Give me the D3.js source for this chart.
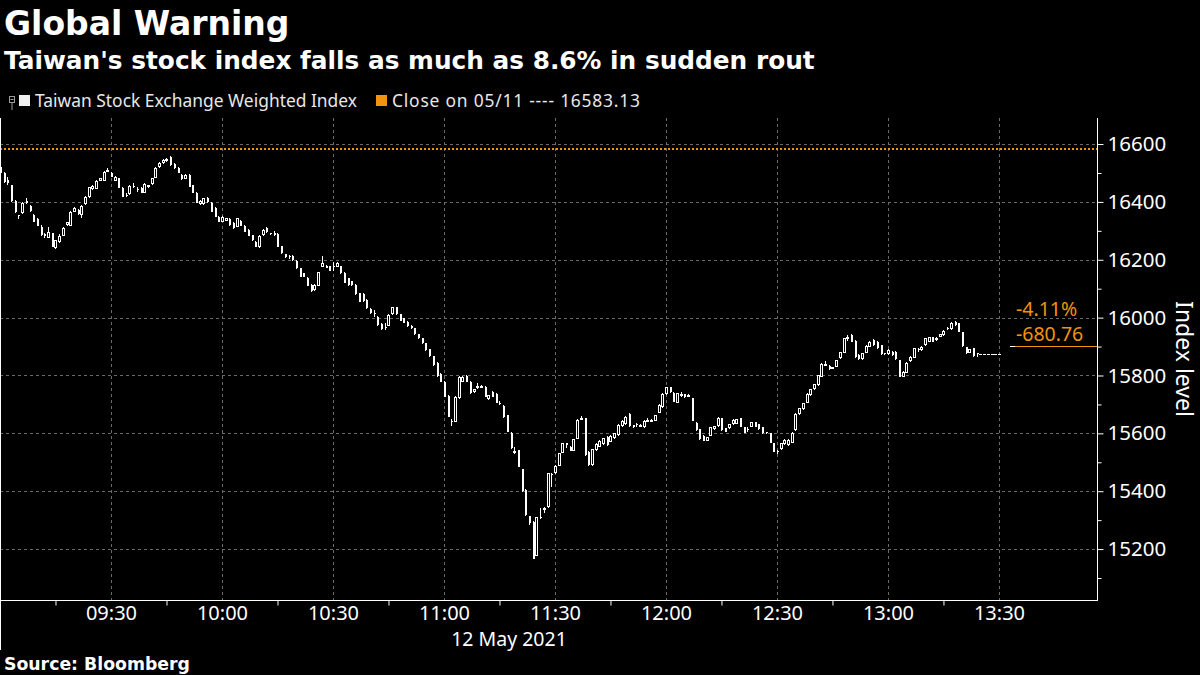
<!DOCTYPE html>
<html><head><meta charset="utf-8">
<script src="https://cdn.jsdelivr.net/npm/d3@7"></script>
<style>html,body{margin:0;padding:0;background:#000;} svg{display:block}</style>
</head><body><svg id="c" width="1200" height="675"></svg>
<script>
// ---------------- DATA ----------------
const sessionStart = "09:00";   // first 1-minute candle
const opens = [
16522,16501,16476,16458,16403,16354,16360,16402,16386,16355,
16341,16314,16289,16276,16292,16242,16262,16283,16319,16318,
16366,16372,16354,16393,16417,16444,16445,16473,16473,16505,
16500,16473,16482,16448,16425,16427,16455,16445,16448,16432,
16451,16462,16484,16519,16533,16543,16555,16530,16517,16493,
16480,16493,16458,16432,16392,16392,16413,16396,16379,16349,
16331,16335,16341,16327,16314,16334,16317,16303,16285,16262,
16243,16285,16310,16292,16294,16289,16247,16219,16212,16213,
16197,16170,16153,16138,16113,16095,16110,16176,16179,16178,
16178,16176,16178,16155,16136,16126,16113,16084,16082,16061,
16030,16016,16003,15978,15969,15972,16011,16036,16012,15998,
15986,15971,15963,15943,15928,15911,15890,15867,15844,15805,
15778,15729,15641,15640,15721,15778,15798,15778,15743,15757,
15762,15761,15718,15744,15736,15706,15695,15663,15602,15531,
15542,15476,15404,15314,15294,15177,15311,15338,15344,15460,
15462,15488,15533,15565,15554,15540,15581,15650,15652,15536,
15490,15542,15554,15563,15588,15571,15583,15594,15625,15632,
15667,15628,15632,15628,15622,15644,15645,15644,15671,15690,
15736,15759,15740,15706,15735,15735,15731,15721,15637,15614,
15591,15574,15592,15614,15625,15652,15617,15617,15632,15634,
15652,15621,15616,15623,15638,15632,15621,15604,15600,15565,
15538,15546,15563,15560,15567,15611,15667,15684,15706,15732,
15753,15767,15796,15838,15834,15826,15830,15859,15879,15932,
15940,15919,15871,15856,15879,15899,15923,15917,15905,15877,
15873,15882,15882,15853,15796,15809,15850,15861,15892,15888,
15905,15917,15932,15926,15934,15940,15964,15960,15986,15980,
15949,15897,15879,15894,15878,15876,15876,15876,15876,15876,
15876];
const highs = [
16526,16503,16485,16460,16405,16356,16400,16412,16388,16357,
16343,16320,16292,16314,16294,16270,16290,16312,16332,16367,
16384,16374,16388,16419,16453,16457,16474,16484,16506,16516,
16502,16488,16484,16450,16432,16457,16465,16451,16450,16464,
16460,16484,16519,16537,16547,16552,16557,16536,16519,16495,
16495,16495,16460,16434,16405,16415,16418,16398,16381,16351,
16350,16346,16343,16329,16346,16336,16319,16305,16287,16264,
16284,16305,16312,16294,16298,16291,16249,16221,16216,16215,
16199,16172,16155,16140,16115,16115,16159,16213,16181,16180,
16193,16192,16180,16157,16138,16128,16115,16086,16084,16063,
16032,16026,16005,15980,15981,16011,16038,16038,16014,16000,
15988,15973,15965,15945,15930,15913,15892,15869,15846,15807,
15780,15731,15648,15728,15797,15797,15800,15780,15754,15773,
15768,15763,15734,15746,15738,15712,15697,15665,15604,15554,
15544,15478,15406,15316,15296,15312,15341,15344,15464,15462,
15489,15533,15567,15567,15556,15581,15648,15660,15654,15538,
15547,15565,15576,15585,15590,15593,15602,15631,15646,15659,
15669,15630,15636,15632,15646,15654,15649,15665,15700,15738,
15761,15761,15742,15740,15744,15737,15735,15723,15639,15616,
15593,15588,15623,15627,15656,15654,15619,15633,15648,15650,
15654,15623,15622,15640,15640,15634,15623,15606,15602,15567,
15541,15567,15579,15579,15604,15669,15688,15706,15738,15755,
15772,15803,15842,15851,15836,15830,15855,15882,15930,15941,
15942,15921,15873,15879,15904,15919,15925,15919,15907,15879,
15890,15884,15884,15855,15814,15846,15867,15896,15896,15901,
15930,15934,15934,15934,15945,15957,15967,15984,15988,15982,
15951,15899,15892,15896,15879,15876,15876,15876,15876,15876,
15876];
const lows = [
16496,16467,16460,16400,16362,16341,16358,16394,16366,16329,
16316,16283,16275,16274,16243,16238,16258,16281,16317,16316,
16364,16356,16345,16390,16415,16442,16443,16471,16471,16503,
16485,16471,16447,16416,16417,16425,16448,16435,16430,16430,
16449,16460,16482,16517,16531,16539,16525,16514,16499,16477,
16478,16450,16430,16395,16390,16390,16397,16364,16347,16329,
16329,16333,16318,16307,16312,16315,16295,16281,16266,16243,
16241,16283,16292,16285,16282,16243,16220,16206,16203,16197,
16168,16139,16139,16108,16090,16093,16108,16174,16170,16160,
16162,16174,16151,16119,16111,16111,16078,16053,16054,16030,
16013,16003,15972,15958,15957,15970,16009,16010,15987,15980,
15969,15961,15941,15926,15909,15886,15865,15834,15796,15776,
15724,15655,15625,15638,15719,15776,15776,15736,15741,15755,
15758,15724,15716,15724,15704,15698,15653,15603,15546,15530,
15482,15399,15316,15283,15164,15175,15305,15325,15342,15415,
15460,15486,15531,15548,15538,15538,15579,15645,15523,15488,
15488,15540,15552,15561,15558,15569,15581,15592,15623,15630,
15623,15618,15623,15622,15620,15640,15643,15642,15669,15688,
15734,15740,15707,15704,15727,15722,15729,15642,15609,15577,
15572,15572,15590,15612,15623,15609,15603,15615,15630,15632,
15621,15600,15606,15621,15621,15612,15598,15598,15565,15534,
15530,15544,15561,15558,15565,15609,15665,15682,15704,15730,
15751,15765,15794,15835,15820,15822,15828,15857,15877,15918,
15915,15861,15854,15854,15877,15897,15903,15892,15872,15871,
15871,15869,15854,15794,15794,15807,15848,15859,15882,15886,
15903,15915,15915,15920,15932,15938,15958,15958,15972,15949,
15900,15875,15877,15865,15865,15876,15876,15876,15876,15876,
15876];
const closes = [
16499,16470,16465,16403,16366,16352,16397,16396,16368,16331,
16318,16285,16282,16297,16245,16268,16282,16310,16330,16365,
16379,16358,16386,16417,16451,16455,16472,16482,16504,16510,
16487,16486,16449,16418,16423,16455,16452,16440,16432,16462,
16458,16482,16517,16535,16545,16548,16527,16518,16501,16479,
16493,16452,16432,16397,16403,16413,16400,16366,16349,16331,
16348,16344,16320,16309,16344,16317,16297,16283,16268,16245,
16282,16303,16296,16290,16286,16245,16222,16208,16208,16199,
16170,16141,16141,16110,16092,16113,16157,16190,16172,16162,
16175,16190,16153,16121,16113,16113,16080,16055,16056,16032,
16015,16013,15974,15960,15967,16009,16036,16012,15989,15982,
15971,15963,15943,15928,15911,15888,15867,15836,15798,15778,
15726,15657,15638,15726,15795,15795,15778,15738,15752,15762,
15765,15726,15732,15726,15706,15703,15655,15605,15548,15539,
15484,15401,15318,15289,15165,15310,15308,15342,15462,15456,
15487,15531,15565,15560,15540,15579,15646,15652,15525,15490,
15545,15563,15574,15583,15560,15591,15600,15629,15644,15657,
15625,15622,15630,15630,15644,15646,15647,15663,15698,15736,
15759,15744,15709,15738,15737,15724,15733,15644,15611,15579,
15574,15586,15621,15625,15654,15611,15605,15631,15646,15648,
15623,15602,15614,15638,15623,15614,15600,15600,15567,15536,
15535,15565,15577,15577,15602,15667,15686,15704,15736,15753,
15770,15801,15840,15841,15822,15828,15853,15880,15928,15934,
15917,15863,15856,15877,15902,15917,15905,15894,15874,15874,
15888,15871,15856,15796,15812,15844,15865,15894,15889,15899,
15928,15932,15917,15930,15943,15955,15960,15982,15974,15951,
15902,15877,15890,15867,15877,15876,15876,15876,15876,15876,
15876];
const prevClose = 16583.13;
const lastClose = 15902.37;
const yTickValues = [15200,15400,15600,15800,16000,16200,16400,16600];
const yMinorValues = [15100,15300,15500,15700,15900,16100,16300,16500];
const xTickLabels = ["09:30","10:00","10:30","11:00","11:30","12:00","12:30","13:00","13:30"];
const xMinorLabels = ["09:15","09:45","10:15","10:45","11:15","11:45","12:15","12:45","13:15"];
const dateLabel = "12 May 2021";
const titleText = "Global Warning";
const subtitleText = "Taiwan's stock index falls as much as 8.6% in sudden rout";
const seriesName = "Taiwan Stock Exchange Weighted Index";
const closeLegend = "Close on 05/11 ---- 16583.13";
const axisTitle = "Index level";
const sourceText = "Source: Bloomberg";

// ---------------- CHART ----------------
const ORANGE = "#f2930f", WHITE = "#ffffff", GRID = "#6a6a6a", TXT = "#e8e8e8";
const FONT = "'Noto Sans', 'DejaVu Sans', sans-serif";
const BOLD = "'DejaVu Sans', 'Noto Sans', sans-serif";
const fmt = d3.formatLocale({decimal:".", thousands:",", grouping:[3], currency:["",""], minus:"-"});
const svg = d3.select("#c");
svg.append("rect").attr("width",1200).attr("height",675).attr("fill","#000");

const P = {left:0, right:1097, top:118, bottom:600};
const parse = d3.timeParse("%H:%M");
const t0 = parse(sessionStart);
const times = opens.map((_, i) => d3.timeMinute.offset(t0, i));
const x = d3.scaleTime().domain([t0, d3.timeSecond.offset(t0, 296.5*60)]).range([P.left, P.right]);
const y = d3.scaleLinear().domain([15024, 16690]).range([P.bottom, P.top]);

// titles
svg.append("text").attr("x",4).attr("y",35).attr("font-family",BOLD).attr("font-weight","bold")
  .attr("font-size",33).attr("fill",WHITE).text(titleText);
svg.append("text").attr("x",4).attr("y",68.5).attr("font-family",BOLD).attr("font-weight","bold")
  .attr("font-size",24.8).attr("fill",WHITE).text(subtitleText);

// legend
const lg = svg.append("g");
lg.append("rect").attr("x",9.5).attr("y",96.5).attr("width",5).attr("height",6)
  .attr("fill","none").attr("stroke","#9a9a9a").attr("stroke-width",1);
lg.append("line").attr("x1",10.5).attr("x2",13.5).attr("y1",99.5).attr("y2",99.5).attr("stroke","#9a9a9a");
lg.append("line").attr("x1",12).attr("x2",12).attr("y1",103).attr("y2",110).attr("stroke","#9a9a9a");
lg.append("rect").attr("x",19).attr("y",95).attr("width",11).attr("height",11).attr("fill","#f0f0f0");
lg.append("text").attr("x",35).attr("y",106.5).attr("font-family",FONT).attr("font-size",17.4)
  .attr("fill",TXT).attr("textLength",322).attr("lengthAdjust","spacing").text(seriesName);
lg.append("rect").attr("x",376).attr("y",95).attr("width",11).attr("height",11).attr("fill",ORANGE);
lg.append("text").attr("x",392).attr("y",106.5).attr("font-family",FONT).attr("font-size",17.4)
  .attr("fill",TXT).attr("textLength",248).attr("lengthAdjust","spacing").text(closeLegend);

// grid
const xTickTimes = xTickLabels.map(parse);
const xMinorTimes = xMinorLabels.map(parse);
const grid = svg.append("g").attr("shape-rendering","crispEdges");
grid.selectAll(".hg").data(yTickValues).join("line")
  .attr("x1",P.left).attr("x2",P.right).attr("y1",d=>Math.round(y(d))+0.5).attr("y2",d=>Math.round(y(d))+0.5)
  .attr("stroke",GRID).attr("stroke-dasharray","3,3");
grid.selectAll(".vg").data(xTickTimes).join("line")
  .attr("x1",d=>Math.round(x(d))+0.5).attr("x2",d=>Math.round(x(d))+0.5).attr("y1",P.top).attr("y2",P.bottom)
  .attr("stroke",GRID).attr("stroke-dasharray","3,3");

// previous close dotted line
svg.append("line").attr("x1",P.left).attr("x2",P.right)
  .attr("y1",y(prevClose)).attr("y2",y(prevClose))
  .attr("stroke",ORANGE).attr("stroke-width",2).attr("stroke-dasharray","2,2");

// candles
svg.append("clipPath").attr("id","pc").append("rect")
  .attr("x",P.left).attr("y",P.top).attr("width",P.right-P.left).attr("height",P.bottom-P.top);
const cg = svg.append("g").attr("clip-path","url(#pc)").attr("shape-rendering","crispEdges");
const idx = d3.range(opens.length);
const cx = i => Math.round(x(times[i]));
cg.selectAll(".wick").data(idx.filter(i=>highs[i]!==lows[i])).join("line")
  .attr("x1",i=>cx(i)+0.5).attr("x2",i=>cx(i)+0.5)
  .attr("y1",i=>Math.round(y(highs[i]))).attr("y2",i=>Math.round(y(lows[i])))
  .attr("stroke",WHITE).attr("stroke-width",1);
// down candles (filled)
cg.selectAll(".dn").data(idx.filter(i=>closes[i]<opens[i])).join("rect")
  .attr("x",i=>cx(i)).attr("width",2)
  .attr("y",i=>Math.round(y(opens[i])))
  .attr("height",i=>Math.max(1, Math.round(y(closes[i]))-Math.round(y(opens[i]))))
  .attr("fill",WHITE);
// up candles (hollow)
cg.selectAll(".up").data(idx.filter(i=>closes[i]>opens[i])).join("rect")
  .attr("x",i=>cx(i)-0.5).attr("width",2)
  .attr("y",i=>Math.round(y(closes[i]))+0.5)
  .attr("height",i=>Math.max(1, Math.round(y(opens[i]))-Math.round(y(closes[i]))-1))
  .attr("fill","#000").attr("stroke",WHITE).attr("stroke-width",1);
// unchanged (doji)
cg.selectAll(".dj").data(idx.filter(i=>closes[i]===opens[i])).join("rect")
  .attr("x",i=>cx(i)-1).attr("width",3)
  .attr("y",i=>Math.round(y(opens[i]))).attr("height",1)
  .attr("fill",WHITE);

// axes
const ya = svg.append("g").attr("transform",`translate(${P.right+0.5},0)`)
  .call(d3.axisRight(y).tickValues(yTickValues).tickSize(6).tickSizeOuter(0).tickPadding(4).tickFormat(d3.format("d")));
ya.select(".domain").attr("stroke",WHITE).attr("d",`M0,${P.top}V${P.bottom}`);
ya.selectAll(".tick line").attr("stroke",WHITE);
ya.selectAll(".tick text").attr("fill",WHITE).attr("font-family",FONT).attr("font-size",20.5);
const ym = svg.append("g").attr("transform",`translate(${P.right+0.5},0)`)
  .call(d3.axisRight(y).tickValues(yMinorValues).tickSize(4).tickFormat(""));
ym.select(".domain").remove();
ym.selectAll(".tick line").attr("stroke",WHITE);

const xa = svg.append("g").attr("transform",`translate(0,${P.bottom+0.5})`)
  .call(d3.axisBottom(x).tickValues(xTickTimes).tickSize(0).tickSizeOuter(0).tickPadding(5).tickFormat(d3.timeFormat("%H:%M")));
xa.select(".domain").attr("stroke",WHITE).attr("d",`M${P.left},0H${P.right+1}`);
xa.selectAll(".tick text").attr("fill",WHITE).attr("font-family",FONT).attr("font-size",20);
const xm = svg.append("g").attr("transform",`translate(0,${P.bottom+0.5})`)
  .call(d3.axisBottom(x).tickValues(xMinorTimes).tickSize(5).tickFormat(""));
xm.select(".domain").remove();
xm.selectAll(".tick line").attr("stroke",WHITE);

svg.append("text").attr("x",509).attr("y",646).attr("text-anchor","middle")
  .attr("font-family",FONT).attr("font-size",19.5).attr("fill",WHITE).text(dateLabel);

// left frame line
svg.append("line").attr("x1",0.5).attr("x2",0.5).attr("y1",P.top).attr("y2",650).attr("stroke",WHITE);

// axis title
svg.append("text").attr("transform","translate(1176,359) rotate(90)").attr("text-anchor","middle")
  .attr("font-family",FONT).attr("font-size",23).attr("fill",WHITE).text(axisTitle);

// last-price annotation
const diff = lastClose - prevClose;
const pct = diff / prevClose * 100;
const ly = Math.round(y(lastClose))+0.5;
svg.append("line").attr("x1",1010).attr("x2",P.right).attr("y1",ly).attr("y2",ly)
  .attr("stroke",ORANGE).attr("stroke-width",1);
svg.append("line").attr("x1",1010).attr("x2",1015).attr("y1",ly).attr("y2",ly)
  .attr("stroke",WHITE).attr("stroke-width",1);
svg.append("text").attr("x",1016).attr("y",316).attr("font-family",FONT).attr("font-size",19.5)
  .attr("fill",ORANGE).text(fmt.format(".2f")(pct) + "%");
svg.append("text").attr("x",1016).attr("y",340.5).attr("font-family",FONT).attr("font-size",19.5)
  .attr("fill",ORANGE).text(fmt.format(".2f")(diff));

// source
svg.append("text").attr("x",4).attr("y",670).attr("font-family",BOLD).attr("font-weight","bold")
  .attr("font-size",17.3).attr("fill",WHITE).text(sourceText);
</script>
</body></html>
